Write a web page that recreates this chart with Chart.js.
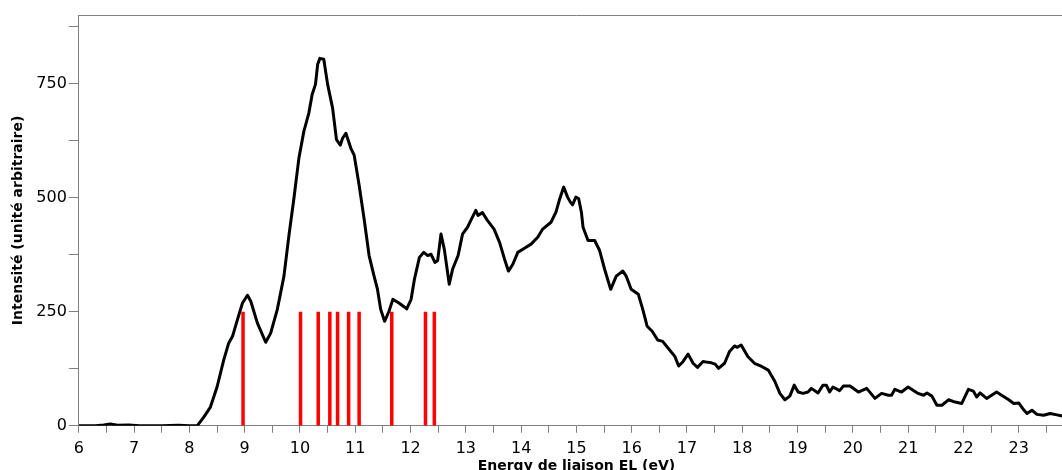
<!DOCTYPE html>
<html>
<head>
<meta charset="utf-8">
<script src="https://cdn.jsdelivr.net/npm/chart.js@4"></script>
<style>
  html, body { margin: 0; padding: 0; background: #fff; overflow: hidden; }
  #wrap { width: 1080px; height: 470px; position: relative; }
</style>
</head>
<body>
<div id="wrap"><canvas id="spectre"></canvas></div>
<script>
// energie de liaison (eV) et intensite du spectre
const energie = [6.00, 6.30, 6.45, 6.57, 6.70, 6.90, 7.10, 7.50, 7.80, 8.00, 8.14, 8.26, 8.38, 8.50, 8.62, 8.71, 8.78, 8.87, 8.96, 9.05,
  9.11, 9.23, 9.38, 9.47, 9.59, 9.71, 9.80, 9.89, 9.98, 10.07, 10.16, 10.22, 10.28, 10.32, 10.36, 10.43, 10.50, 10.59, 10.66, 10.73,
  10.77, 10.83, 10.92, 10.98, 11.07, 11.16, 11.25, 11.34, 11.40, 11.46, 11.53, 11.61, 11.68, 11.79, 11.88, 11.93, 12.01, 12.07, 12.16, 12.24,
  12.31, 12.37, 12.44, 12.49, 12.55, 12.61, 12.70, 12.76, 12.86, 12.94, 13.03, 13.09, 13.18, 13.22, 13.30, 13.39, 13.51, 13.61, 13.70, 13.77,
  13.85, 13.94, 14.06, 14.18, 14.30, 14.39, 14.54, 14.63, 14.69, 14.77, 14.84, 14.89, 14.93, 14.99, 15.04, 15.09, 15.12, 15.21, 15.33, 15.42,
  15.51, 15.62, 15.72, 15.84, 15.90, 15.99, 16.12, 16.20, 16.28, 16.37, 16.47, 16.56, 16.66, 16.78, 16.85, 16.93, 17.02, 17.11, 17.19, 17.29,
  17.38, 17.44, 17.51, 17.57, 17.68, 17.77, 17.86, 17.91, 17.98, 18.10, 18.22, 18.35, 18.47, 18.59, 18.68, 18.77, 18.86, 18.94, 19.01, 19.10,
  19.19, 19.25, 19.37, 19.46, 19.52, 19.58, 19.64, 19.76, 19.83, 19.95, 20.10, 20.25, 20.40, 20.52, 20.64, 20.70, 20.76, 20.88, 21.00, 21.09,
  21.18, 21.28, 21.34, 21.43, 21.52, 21.61, 21.73, 21.85, 21.97, 22.09, 22.18, 22.24, 22.30, 22.42, 22.51, 22.60, 22.69, 22.82, 22.91, 23.00,
  23.09, 23.15, 23.24, 23.33, 23.45, 23.57, 23.69, 23.81];
const intensite = [0, 0, 2, 4, 1, 2, 0, 0, 1, 0, 0, 19, 41, 85, 144, 181, 196, 233, 269, 286,
  273, 225, 183, 203, 255, 328, 417, 498, 586, 645, 685, 726, 748, 792, 805, 803, 748, 696, 627, 615,
  630, 641, 608, 593, 527, 453, 373, 328, 300, 255, 229, 251, 277, 269, 261, 256, 277, 321, 369, 380,
  373, 376, 358, 362, 420, 387, 310, 343, 373, 420, 435, 450, 472, 461, 467, 450, 431, 402, 365, 339,
  354, 380, 389, 398, 413, 431, 446, 468, 494, 523, 501, 490, 484, 501, 498, 468, 435, 406, 406, 384,
  343, 299, 328, 339, 328, 299, 288, 255, 218, 207, 188, 185, 170, 152, 131, 141, 157, 137, 128, 141,
  139, 138, 135, 126, 137, 163, 175, 172, 177, 152, 137, 130, 122, 97, 71, 57, 65, 89, 74, 71,
  74, 82, 72, 89, 89, 74, 85, 77, 87, 87, 74, 82, 60, 71, 67, 67, 80, 74, 85, 78,
  71, 67, 72, 65, 45, 45, 57, 52, 49, 80, 76, 63, 72, 60, 67, 74, 67, 57, 49, 50,
  35, 27, 34, 25, 23, 27, 24, 21];

// positions des raies calculees (barres rouges)
const raies = [8.97, 10.01, 10.33, 10.54, 10.68, 10.88, 11.07, 11.66, 12.27, 12.43];
const hauteurRaie = 250;

// graduations
const xTicks = [];
for (let v = 6; v <= 24; v += 0.5) xTicks.push(v);
const xLabels = [6, 7, 8, 9, 10, 11, 12, 13, 14, 15, 16, 17, 18, 19, 20, 21, 22, 23];
const yTicks = [0, 125, 250, 375, 500, 625, 750, 875];
const yLabels = [0, 250, 500, 750];
const titreX = 'Energy de liaison EL (eV)';

const courbe = energie.map((e, i) => ({ x: e, y: intensite[i] }));

const datasets = raies.map(e => ({
    data: [{ x: e, y: 0 }, { x: e, y: hauteurRaie }],
    showLine: true,
    borderColor: '#ff0000',
    borderWidth: 3.5,
    pointRadius: 0,
    borderCapStyle: 'butt',
    order: 2
}));
datasets.push({
    data: courbe,
    showLine: true,
    borderColor: '#000',
    borderWidth: 3,
    pointRadius: 0,
    tension: 0,
    borderJoinStyle: 'round',
    order: 1
});

// cadre du haut + titre de l'axe x (coupe en bas comme l'original)
const cadre = {
    id: 'cadre',
    afterDraw(chart) {
        const a = chart.chartArea, ctx = chart.ctx;
        ctx.save();
        ctx.strokeStyle = '#808080';
        ctx.lineWidth = 1;
        ctx.beginPath();
        ctx.moveTo(a.left, a.top + 0.5);
        ctx.lineTo(a.right, a.top + 0.5);
        ctx.lineTo(a.right, a.bottom);
        ctx.stroke();
        ctx.fillStyle = '#000';
        ctx.font = 'bold 14px "DejaVu Sans"';
        ctx.textAlign = 'center';
        ctx.textBaseline = 'alphabetic';
        ctx.fillText(titreX, (a.left + a.right) / 2, a.bottom + 44);
        ctx.restore();
    }
};

Chart.defaults.font.family = 'DejaVu Sans';
Chart.defaults.color = '#000';

new Chart(document.getElementById('spectre'), {
    type: 'scatter',
    data: { datasets },
    plugins: [cadre],
    options: {
        responsive: true,
        maintainAspectRatio: false,
        animation: false,
        layout: { padding: { top: 15, left: 6, right: 0, bottom: 6 } },
        plugins: { legend: { display: false }, tooltip: { enabled: false } },
        scales: {
            x: {
                type: 'linear',
                min: 6,
                max: 24,
                afterBuildTicks: s => { s.ticks = xTicks.map(v => ({ value: v })); },
                ticks: {
                    autoSkip: false,
                    maxRotation: 0,
                    padding: 6,
                    font: { size: 16 },
                    callback: v => xLabels.includes(v) ? String(v) : ''
                },
                grid: { drawOnChartArea: false, tickLength: 7, color: '#808080' },
                border: { color: '#808080' },
                title: { display: false }
            },
            y: {
                min: 0,
                max: 900,
                afterBuildTicks: s => { s.ticks = yTicks.map(v => ({ value: v })); },
                ticks: {
                    autoSkip: false,
                    padding: 2,
                    font: { size: 16 },
                    callback: v => yLabels.includes(v) ? String(v) : ''
                },
                grid: { drawOnChartArea: false, tickLength: 10, color: '#808080' },
                border: { color: '#808080' },
                title: { display: true, text: 'Intensité (unité arbitraire)', font: { size: 14, weight: 'bold' }, padding: { top: 4, bottom: 7.5 } }
            }
        }
    }
});
</script>
</body>
</html>
